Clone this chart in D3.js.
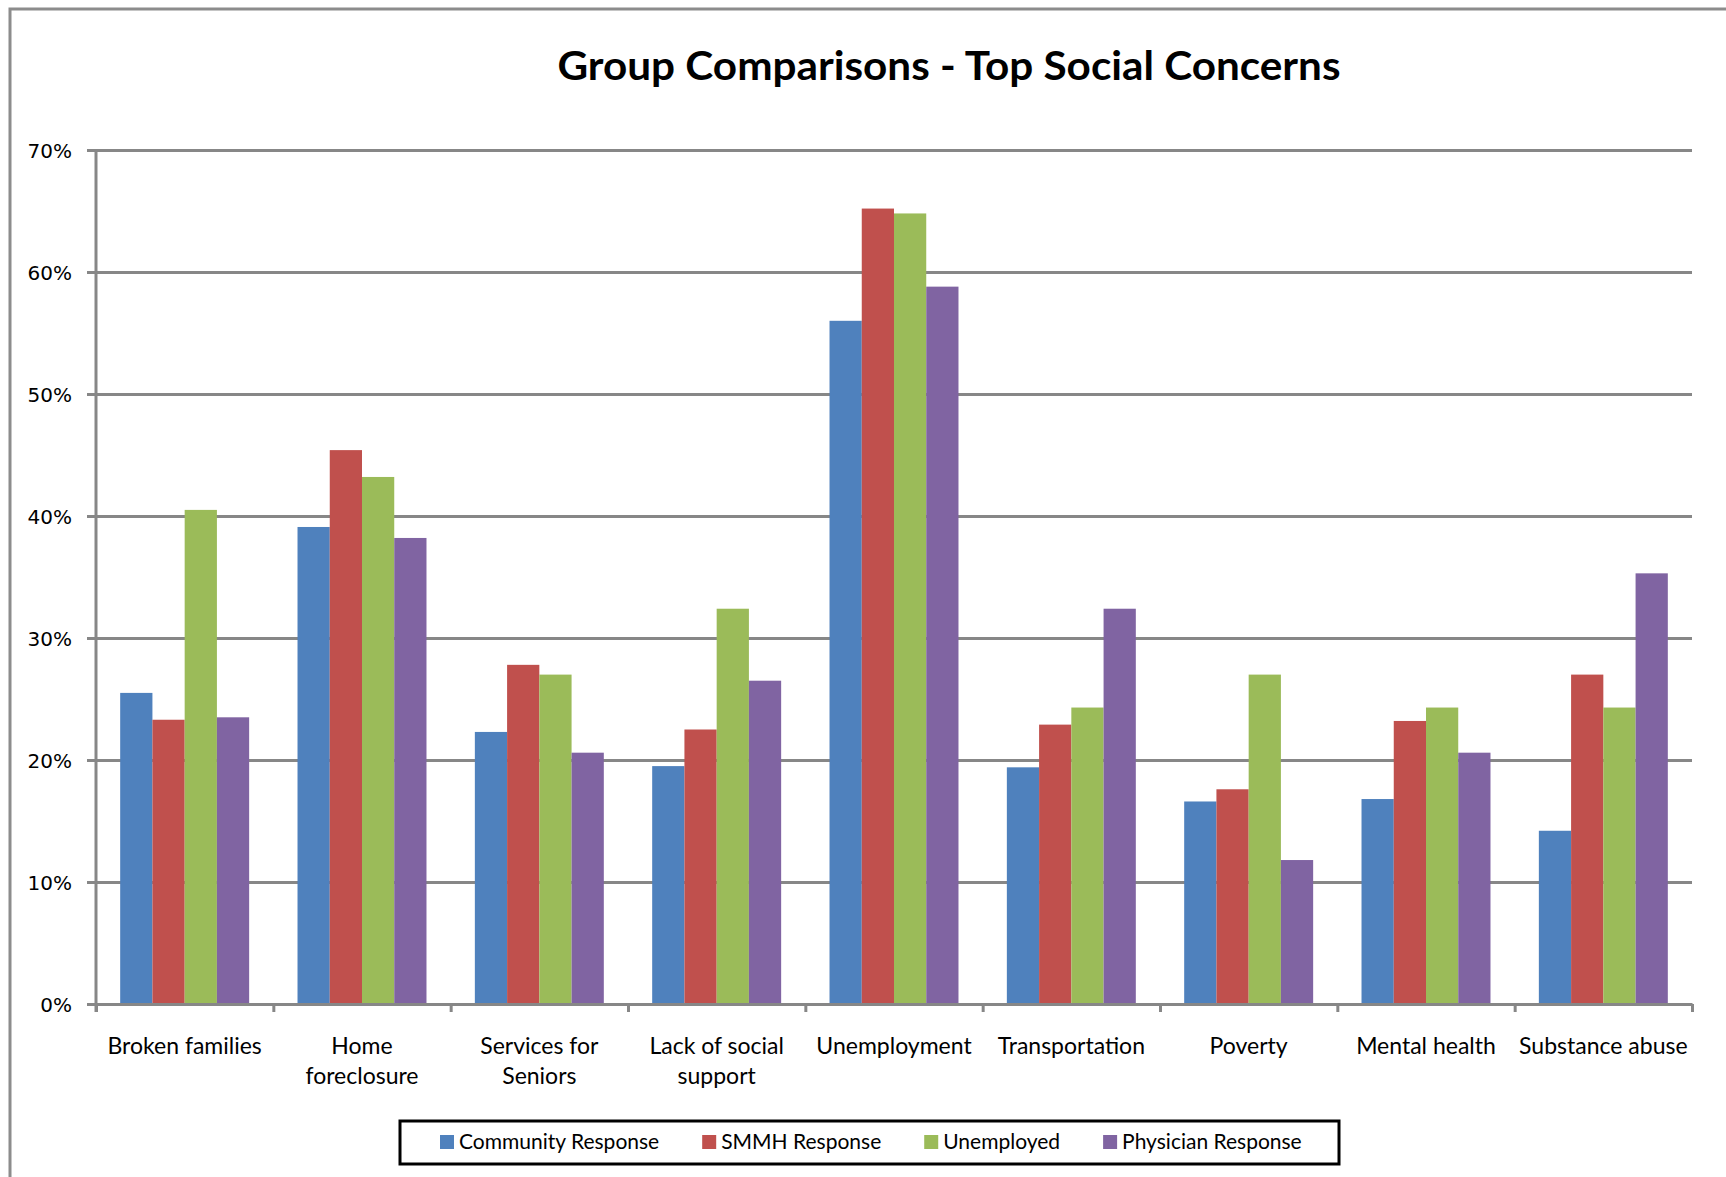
<!DOCTYPE html>
<html>
<head>
<meta charset="utf-8">
<script src="https://cdn.jsdelivr.net/npm/d3@7"></script>
<style>
  body { margin: 0; background: #fff; }
  svg { display: block; }
</style>
</head>
<body>
<div id="chart"></div>
<script>
// data (fractions)
const categories = ['Broken families', 'Home\nforeclosure', 'Services for\nSeniors', 'Lack of social\nsupport',
  'Unemployment', 'Transportation', 'Poverty', 'Mental health', 'Substance abuse'];
const seriesNames = ['Community Response', 'SMMH Response', 'Unemployed', 'Physician Response'];
const community = [0.255, 0.391, 0.223, 0.195, 0.560, 0.194, 0.166, 0.168, 0.142];
const smmh = [0.233, 0.454, 0.278, 0.225, 0.652, 0.229, 0.176, 0.232, 0.270];
const unemployed = [0.405, 0.432, 0.270, 0.324, 0.648, 0.243, 0.270, 0.243, 0.243];
const physician = [0.235, 0.382, 0.206, 0.265, 0.588, 0.324, 0.118, 0.206, 0.353];
const yTicks = [0, 0.1, 0.2, 0.3, 0.4, 0.5, 0.6, 0.7];
const colors = ['#4F81BD', '#C0504D', '#9BBB59', '#8064A2'];

const W = 1726, H = 1177;
const plot = { left: 96, right: 1692, top: 150, bottom: 1004 };
const gridColor = '#878787';
const labelFont = 'Lato, "Open Sans", sans-serif';

const seriesValues = [community, smmh, unemployed, physician];
const rows = categories.map((c, i) => ({
  cat: c,
  vals: seriesNames.map((s, j) => ({ key: s, value: seriesValues[j][i], color: colors[j] }))
}));

const svg = d3.select('#chart').append('svg')
  .attr('width', W)
  .attr('height', H);

svg.append('rect')
  .attr('width', W).attr('height', H).attr('fill', '#fff');

// outer chart border (cut off at right / bottom)
svg.append('rect')
  .attr('x', 10).attr('y', 9)
  .attr('width', W + 50).attr('height', H + 50)
  .attr('fill', 'none')
  .attr('stroke', '#8c8c8c')
  .attr('stroke-width', 3);

// title
svg.append('text')
  .attr('x', 949)
  .attr('y', 80)
  .attr('text-anchor', 'middle')
  .attr('font-family', labelFont)
  .attr('font-weight', 'bold')
  .attr('font-size', 40)
  .attr('textLength', 783)
  .attr('lengthAdjust', 'spacingAndGlyphs')
  .text('Group Comparisons - Top Social Concerns');

const x0 = d3.scaleBand()
  .domain(categories)
  .range([plot.left, plot.right])
  .padding(0);

// excel style: gap width 150%
const barW = x0.bandwidth() / 5.5;
const x1 = d3.scaleBand()
  .domain(seriesNames)
  .range([0, barW * 4]);
const groupOffset = (x0.bandwidth() - barW * 4) / 2;

const y = d3.scaleLinear()
  .domain([0, 0.7])
  .range([plot.bottom, plot.top]);

// gridlines + y tick marks
const yAxis = svg.append('g')
  .attr('transform', `translate(${plot.left},0)`)
  .call(d3.axisLeft(y)
    .tickValues(yTicks)
    .tickSize(-(plot.right - plot.left))
    .tickFormat(d3.format('.0%')));
yAxis.select('.domain').remove();
yAxis.selectAll('.tick line')
  .attr('x1', -9)
  .attr('stroke', gridColor)
  .attr('stroke-width', 3);
yAxis.selectAll('.tick text')
  .attr('x', -24)
  .attr('dy', '0.36em')
  .attr('font-family', '"DejaVu Sans", Verdana, sans-serif')
  .attr('font-size', 20)
  .attr('fill', '#000');

// bars
const groups = svg.append('g')
  .selectAll('g')
  .data(rows)
  .join('g')
  .attr('transform', d => `translate(${x0(d.cat) + groupOffset},0)`);

groups.selectAll('rect')
  .data(d => d.vals)
  .join('rect')
  .attr('x', d => x1(d.key))
  .attr('y', d => y(d.value))
  .attr('width', x1.bandwidth())
  .attr('height', d => y(0) - y(d.value))
  .attr('fill', d => d.color);

// y axis line
svg.append('line')
  .attr('x1', plot.left).attr('x2', plot.left)
  .attr('y1', plot.top - 1).attr('y2', plot.bottom + 8)
  .attr('stroke', gridColor)
  .attr('stroke-width', 3);

// x axis: ticks sit between categories
const xb = d3.scaleLinear()
  .domain([0, categories.length])
  .range([plot.left, plot.right]);
const xAxis = svg.append('g')
  .attr('transform', `translate(0,${plot.bottom})`)
  .call(d3.axisBottom(xb)
    .tickValues(d3.range(categories.length + 1))
    .tickSize(8)
    .tickSizeOuter(0)
    .tickFormat(''));
xAxis.selectAll('path, line')
  .attr('stroke', gridColor)
  .attr('stroke-width', 3);

// category labels, two lines where needed
const catLabels = svg.append('g')
  .attr('font-family', labelFont)
  .attr('font-size', 23)
  .attr('text-anchor', 'middle')
  .selectAll('text')
  .data(categories)
  .join('text')
  .attr('x', d => x0(d) + x0.bandwidth() / 2)
  .attr('y', 1054);
catLabels.selectAll('tspan')
  .data(d => d.split('\n'))
  .join('tspan')
  .attr('x', function() { return d3.select(this.parentNode).attr('x'); })
  .attr('dy', (d, i) => i === 0 ? 0 : 30)
  .text(d => d);

// legend
const legendBox = { x: 400, y: 1121, w: 939, h: 43 };
svg.append('rect')
  .attr('x', legendBox.x).attr('y', legendBox.y)
  .attr('width', legendBox.w).attr('height', legendBox.h)
  .attr('fill', '#fff')
  .attr('stroke', '#000')
  .attr('stroke-width', 3);

const legend = svg.append('g')
  .attr('font-family', labelFont)
  .attr('font-size', 21);
let lx = 440;
seriesNames.forEach((s, i) => {
  legend.append('rect')
    .attr('x', lx).attr('y', 1135)
    .attr('width', 14).attr('height', 14)
    .attr('fill', colors[i]);
  const t = legend.append('text')
    .attr('x', lx + 19)
    .attr('y', 1149)
    .text(s);
  lx += 19 + t.node().getComputedTextLength() + 43;
});
</script>
</body>
</html>
